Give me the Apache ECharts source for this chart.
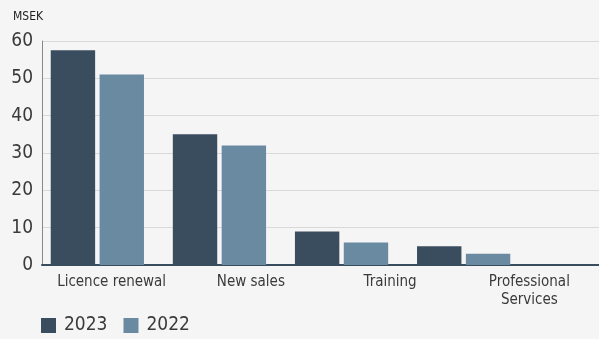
<!DOCTYPE html>
<html>
<head>
<meta charset="utf-8">
<script src="https://cdn.jsdelivr.net/npm/echarts@6/dist/echarts.min.js"></script>
<style>
  html, body { margin: 0; padding: 0; background: #f5f5f5; }
  #chart { width: 599px; height: 339px; }
</style>
</head>
<body>
<div id="chart"></div>
<script>
// Revenue by category, MSEK
const categories = ['Licence renewal', 'New sales', 'Training', 'Professional\nServices'];
const values2023 = [57.5, 35, 9, 5];
const values2022 = [51, 32, 6, 3];
const yTicks = [0, 10, 20, 30, 40, 50, 60];

const colors = { y2023: '#3a4d5f', y2022: '#6a8aa1' };
const font = '"DejaVu Sans Condensed", "Noto Sans", sans-serif';

const chart = echarts.init(document.getElementById('chart'), null, { renderer: 'canvas' });

chart.setOption({
  backgroundColor: '#f5f5f5',
  animation: false,
  title: {
    text: 'MSEK',
    left: 8, top: 6,
    textStyle: { fontFamily: font, fontSize: 12, fontWeight: 'normal', color: '#222' }
  },
  legend: {
    left: 41, bottom: 4, padding: 0,
    itemWidth: 15, itemHeight: 15, itemGap: 16,
    icon: 'rect',
    textStyle: { fontFamily: font, fontSize: 19, color: '#3a3a3a', padding: [0, 0, 0, 3] },
    data: ['2023', '2022']
  },
  grid: [
    // axes, gridlines and category labels
    { left: 42, right: 0, top: 41, bottom: 74, containLabel: false },
    // bar groups
    { left: 36.3, width: 488.4, top: 41, bottom: 74, containLabel: false }
  ],
  xAxis: [
    {
      gridIndex: 0, type: 'category', data: categories,
      axisLine: { lineStyle: { color: '#3a4d5f', width: 2 } },
      axisTick: { show: false },
      axisLabel: { interval: 0, fontFamily: font, fontSize: 15, color: '#3a3a3a', margin: 8, lineHeight: 18 }
    },
    {
      gridIndex: 1, type: 'category', data: categories,
      show: false
    }
  ],
  yAxis: [
    {
      gridIndex: 0, type: 'value', min: yTicks[0], max: yTicks[yTicks.length - 1], interval: 10,
      axisLine: { show: true, lineStyle: { color: '#888', width: 1 } },
      axisTick: { show: false },
      splitLine: { lineStyle: { color: '#d9d9d9', width: 1 } },
      axisLabel: { fontFamily: font, fontSize: 19, color: '#3a3a3a', margin: 9 }
    },
    {
      gridIndex: 1, type: 'value', min: yTicks[0], max: yTicks[yTicks.length - 1], interval: 10,
      show: false, splitLine: { show: false }
    }
  ],
  series: [
    {
      name: '2023', type: 'bar', xAxisIndex: 1, yAxisIndex: 1,
      data: values2023, barWidth: 44.4, barGap: '10%',
      itemStyle: { color: colors.y2023 }
    },
    {
      name: '2022', type: 'bar', xAxisIndex: 1, yAxisIndex: 1,
      data: values2022, barWidth: 44.4, barGap: '10%',
      itemStyle: { color: colors.y2022 }
    }
  ]
});
</script>
</body>
</html>
